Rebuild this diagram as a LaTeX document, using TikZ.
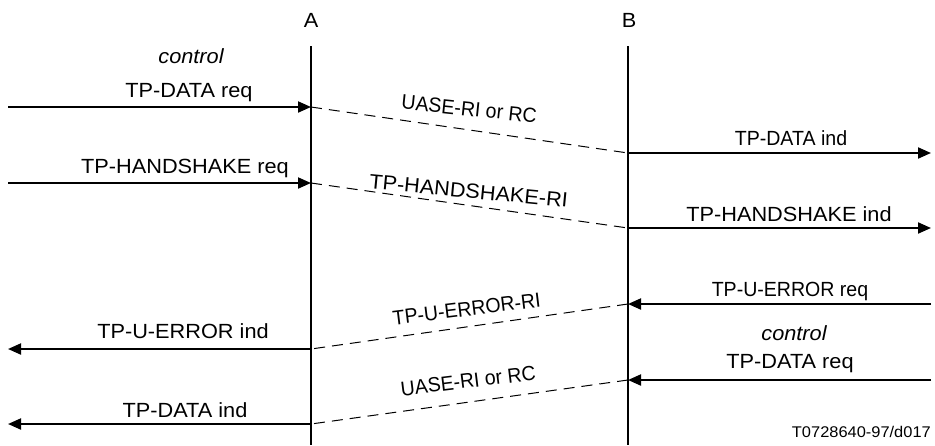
\documentclass[tikz,border=0pt]{standalone}
\usepackage{fontspec}
\setmainfont{Liberation Sans}[FakeStretch=1.06]
\usepackage{graphicx}
\usetikzlibrary{arrows.meta}
\tikzset{
  lifeline/.style={line width=2pt},
  msg/.style={line width=2pt, -{Triangle[length=13pt,width=11pt]}},
  sig/.style={line width=1pt, dash pattern=on 11pt off 7pt},
  lbl/.style={font=\fontsize{20.5}{24}\selectfont, inner sep=0pt, anchor=base},
  code/.style={font=\fontsize{15.5}{18}\selectfont, inner sep=0pt, anchor=base east}
}
\newcommand{\nrw}[1]{\scalebox{0.9}[1]{#1}}
\begin{document}
\begin{tikzpicture}[x=1pt,y=-1pt]
\useasboundingbox (0,0) rectangle (935,445);
% headers and lifelines
\node[lbl] (hA) at (311,27) {A};
\node[lbl] (hB) at (629,27) {B};
\coordinate (Atop) at (311,46); \coordinate (Abot) at (311,445);
\coordinate (Btop) at (628,46); \coordinate (Bbot) at (628,445);
\draw[lifeline] (Atop) -- (Abot);
\draw[lifeline] (Btop) -- (Bbot);
% event points
\coordinate (A1) at (311,107); \coordinate (L1) at (8,107);
\coordinate (B1) at (628,153); \coordinate (R1) at (931,153);
\coordinate (A2) at (311,183); \coordinate (L2) at (8,183);
\coordinate (B2) at (628,228); \coordinate (R2) at (931,228);
\coordinate (B3) at (628,304); \coordinate (R3) at (931,304);
\coordinate (A3) at (311,349); \coordinate (L3) at (8,349);
\coordinate (B4) at (628,380); \coordinate (R4) at (931,380);
\coordinate (A4) at (311,424); \coordinate (L4) at (8,424);
% messages
\draw[msg] (L1) -- (A1);
\draw[sig] (A1) -- (B1);
\draw[msg] (B1) -- (R1);
\draw[msg] (L2) -- (A2);
\draw[sig] (A2) -- (B2);
\draw[msg] (B2) -- (R2);
\draw[msg] (R3) -- (B3);
\draw[sig] (B3) -- (A3);
\draw[msg] (A3) -- (L3);
\draw[msg] (R4) -- (B4);
\draw[sig] (B4) -- (A4);
\draw[msg] (A4) -- (L4);
% labels
\node[lbl] (c1) at (191,63) {\itshape control};
\node[lbl] (t1) at (189,97) {TP-DATA req};
\node[lbl, rotate=-6] (s1) at (468.5,116) {\nrw{UASE-RI or RC}};
\node[lbl] (t2) at (791,145) {\nrw{TP-DATA ind}};
\node[lbl] (t3) at (185,173) {TP-HANDSHAKE req};
\node[lbl, rotate=-5.5] (s2) at (468,198) {TP-HANDSHAKE-RI};
\node[lbl] (t4) at (789,221.5) {TP-HANDSHAKE ind};
\node[lbl] (t5) at (790,296.5) {\nrw{TP-U-ERROR req}};
\node[lbl, rotate=7] (s3) at (467.5,316) {\nrw{TP-U-ERROR-RI}};
\node[lbl] (t6) at (183,338) {TP-U-ERROR ind};
\node[lbl] (c2) at (794,340) {\itshape control};
\node[lbl] (t7) at (790,368) {TP-DATA req};
\node[lbl, rotate=7] (s4) at (469,388) {\nrw{UASE-RI or RC}};
\node[lbl] (t8) at (185,417) {TP-DATA ind};
\node[code] (id) at (931,437) {T0728640-97/d017};
\end{tikzpicture}
\end{document}
